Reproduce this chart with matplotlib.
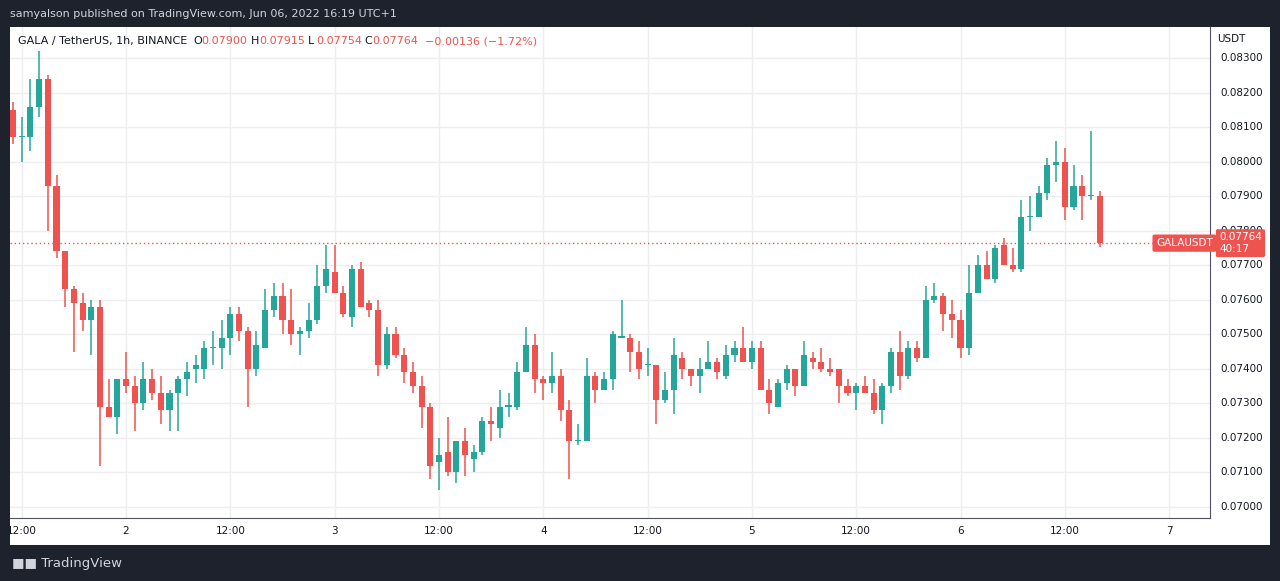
import matplotlib
matplotlib.use("Agg")
import matplotlib.pyplot as plt
import numpy as np

opens = [.0815,.0807,.0807,.08157,.0824,.0793,.0774,.0763,.0759,.0754,.0758,.0729,.0726,.0737,.0735,.0730,.0737,.0733,.0728,.0733,
         .0737,.0740,.0740,.0746,.0746,.0749,.0756,.0751,.0740,.0746,.0757,.0761,.0754,.0750,.0751,.0754,.0764,.0768,.0762,.0755,
         .0769,.0759,.0757,.0741,.0750,.0744,.0739,.0735,.0729,.0713,.0716,.0710,.0719,.0714,.0716,.0725,.0723,.0729,.0729,.0739,
         .0747,.0737,.0736,.0738,.0728,.0719,.0719,.0738,.0734,.0737,.0749,.0749,.0745,.0741,.0741,.0731,.0734,.0743,.0740,.0738,
         .0740,.0742,.0738,.0744,.0746,.0742,.0746,.0734,.0729,.0736,.0740,.0735,.0743,.0742,.0740,.0740,.0735,.0733,.0735,.0733,
         .0728,.0735,.0745,.0738,.0746,.0743,.0760,.0761,.0756,.0754,.0746,.0762,.0770,.0766,.0776,.0770,.0769,.0784,.0784,.0791,
         .0799,.0800,.0787,.0793,.0790,.0790]
closes = [.0807,.0807,.08157,.0824,.0793,.0774,.0763,.0759,.0754,.0758,.0729,.0726,.0737,.0735,.0730,.0737,.0733,.0728,.0733,.0737,
          .0739,.0741,.0746,.0746,.0749,.0756,.0751,.0740,.0747,.0757,.0761,.0754,.0750,.0751,.0754,.0764,.0769,.0762,.0756,.0769,
          .0758,.0757,.0741,.0750,.0744,.0739,.0735,.0729,.0712,.0715,.0710,.0719,.0715,.0716,.0725,.0724,.0729,.0729,.0739,.0747,
          .0737,.0736,.0738,.0728,.0719,.07195,.0738,.0734,.0737,.0750,.0749,.0745,.0740,.0741,.0731,.0734,.0744,.0740,.0738,.0740,
          .0742,.0739,.0744,.0746,.0742,.0746,.0734,.0730,.0736,.0740,.0735,.0744,.0742,.0740,.0739,.0735,.0733,.0735,.0733,.0728,
          .0735,.0745,.0738,.0746,.0743,.0760,.0761,.0756,.0754,.0746,.0762,.0770,.0766,.0775,.0770,.0769,.0784,.0784,.0791,.0799,
          .0800,.0787,.0793,.0790,.0790,.07764]
highs = [.08174,.0813,.0824,.0832,.0825,.0796,.0774,.0764,.0762,.0760,.0760,.0737,.0737,.0745,.0738,.0742,.0740,.0738,.0734,.0738,
         .0742,.0744,.0748,.0751,.0754,.0758,.0758,.0752,.0751,.0763,.0765,.0765,.0763,.0752,.0759,.0770,.0776,.0776,.0764,.0770,
         .0771,.0760,.0760,.0752,.0752,.0746,.0742,.0738,.0730,.0720,.0726,.0719,.0723,.0718,.0726,.0729,.0734,.0733,.0742,.0752,
         .0750,.0738,.0745,.0740,.0731,.0724,.0743,.0739,.0739,.0751,.0760,.0750,.0748,.0746,.0741,.0739,.0749,.0745,.0740,.0743,
         .0748,.0743,.0747,.0748,.0752,.0748,.0748,.0737,.0737,.0741,.0740,.0748,.0745,.0746,.0743,.0740,.0737,.0736,.0738,.0737,
         .0736,.0746,.0751,.0748,.0748,.0764,.0765,.0762,.0760,.0757,.0770,.0773,.0774,.0776,.0778,.0775,.0789,.0790,.0793,.0801,
         .0806,.0804,.0799,.0796,.0809,.07915]
lows = [.08052,.0800,.0803,.0813,.0780,.0772,.0758,.0745,.0751,.0744,.0712,.0726,.0721,.0733,.0722,.0728,.0731,.0724,.0722,.0722,
        .0732,.0736,.0737,.0741,.0740,.0744,.0748,.0729,.0738,.0746,.0755,.0750,.0747,.0744,.0749,.0753,.0762,.0762,.0755,.0752,
        .0758,.0755,.0738,.0740,.0743,.0736,.0733,.0723,.0708,.0705,.0709,.0707,.0709,.0710,.0715,.0719,.0720,.0726,.0728,.0739,
        .0733,.0731,.0733,.0725,.0708,.0718,.0719,.0730,.0734,.0734,.0749,.0739,.0737,.0738,.0724,.0730,.0727,.0737,.0735,.0733,
        .0740,.0737,.0737,.0742,.0742,.0740,.0734,.0727,.0729,.0734,.0732,.0735,.0740,.0739,.0738,.0730,.0732,.0728,.0733,.0727,
        .0724,.0733,.0734,.0737,.0742,.0743,.0759,.0751,.0749,.0743,.0744,.0762,.0766,.0765,.0770,.0768,.0768,.0780,.0784,.0789,
        .0794,.0783,.0786,.0783,.0789,.07754]
tick_labels = ["12:00", "2", "12:00", "3", "12:00", "4", "12:00", "5", "12:00", "6", "12:00", "7"]
price_ticks = [0.070, 0.071, 0.072, 0.073, 0.074, 0.075, 0.076, 0.077, 0.078, 0.079, 0.080, 0.081, 0.082, 0.083]
last_price = 0.07764

GREEN = "#26a69a"; RED = "#ef5350"; DARK = "#1e222d"; GRID = "#eceef2"; TXT = "#131722"
W, H = 1280, 581
fig = plt.figure(figsize=(W/100, H/100), dpi=100, facecolor=DARK)
def fr(x0, y0, x1, y1):
    return [x0/W, 1 - y1/H, (x1-x0)/W, (y1-y0)/H]

n = len(opens)
idx = np.arange(n)
xl = (-0.35, 137.7)
yl = (0.06968, 0.0839)

panel = fig.add_axes(fr(10, 27, 1270, 545)); panel.set_facecolor("white")
panel.set_xticks([]); panel.set_yticks([])
for s in panel.spines.values(): s.set_visible(False)

ax = fig.add_axes(fr(10, 27, 1210, 518))
ax.set_facecolor("white")
ax.set_xlim(*xl); ax.set_ylim(*yl)
tick_idx = [1 + 12*k for k in range(len(tick_labels))]
for t in tick_idx:
    ax.axvline(t, color=GRID, lw=1, zorder=0)
for p in price_ticks:
    ax.axhline(p, color=GRID, lw=1, zorder=0)
o = np.array(opens); c = np.array(closes); h = np.array(highs); l = np.array(lows)
cols = [GREEN if cc >= oo else RED for oo, cc in zip(o, c)]
ax.vlines(idx, l, h, colors=cols, lw=1.1, zorder=2)
bot = np.minimum(o, c); ht = np.maximum(np.abs(c - o), 0.00004)
ax.bar(idx, ht, bottom=bot, width=0.7, color=cols, zorder=3)
ax.axhline(last_price, color=RED, lw=1, ls=(0, (1, 2)), zorder=1)
ax.set_xticks([]); ax.set_yticks([])
for s in ["top", "left"]: ax.spines[s].set_visible(False)
ax.spines["bottom"].set_color("#50535e")
ax.spines["right"].set_color("#50535e")
ax.text(131.5, last_price, "GALAUSDT", fontsize=7.5, color="white", va="center", ha="left", zorder=5,
        bbox=dict(boxstyle="round,pad=0.35,rounding_size=0.2", fc=RED, ec="none"))

hy = 1 - 41/H
fs = 8
fig.text(18/W, hy, "GALA / TetherUS, 1h, BINANCE", fontsize=fs, color=TXT, va="center")
hdr = [("O", "0.07900", 193), ("H", "0.07915", 251), ("L", "0.07754", 308), ("C", "0.07764", 364)]
for lab, val, xp in hdr:
    fig.text(xp/W, hy, lab, fontsize=fs, color=TXT, va="center")
    fig.text((xp+8)/W, hy, val, fontsize=fs, color=RED, va="center")
fig.text(425/W, hy, "\u22120.00136 (\u22121.72%)", fontsize=fs, color=RED, va="center")
fig.text(10/W, 1-14/H, "samyalson published on TradingView.com, Jun 06, 2022 16:19 UTC+1", fontsize=8, color="#d1d4dc", va="center")

tax = fig.add_axes(fr(10, 518, 1210, 545)); tax.set_xlim(*xl); tax.set_ylim(0, 1); tax.axis("off")
for t, lab in zip(tick_idx, tick_labels):
    tax.text(t, 0.5, lab, ha="center", va="center", fontsize=7.5, color=TXT, clip_on=True)

pax = fig.add_axes(fr(1210, 27, 1270, 518)); pax.set_ylim(*yl); pax.set_xlim(0, 1); pax.axis("off")
for p in price_ticks:
    pax.text(0.17, p, f"{p:.5f}", va="center", ha="left", fontsize=7.5, color=TXT)
pax.text(0.12, 0.975, "USDT", transform=pax.transAxes, fontsize=7.5, color=TXT, va="center")
pax.text(0.15, last_price, "0.07764\n40:17", va="center", ha="left", fontsize=7.5, color="white", linespacing=1.2,
         bbox=dict(boxstyle="round,pad=0.3,rounding_size=0.15", fc=RED, ec="none"), zorder=5)

fig.text(12/W, 1-563/H, "\u25a0\u25a0 TradingView", fontsize=9.5, color="#d1d4dc", va="center")
fig.savefig("out.png", dpi=100, facecolor=DARK)
